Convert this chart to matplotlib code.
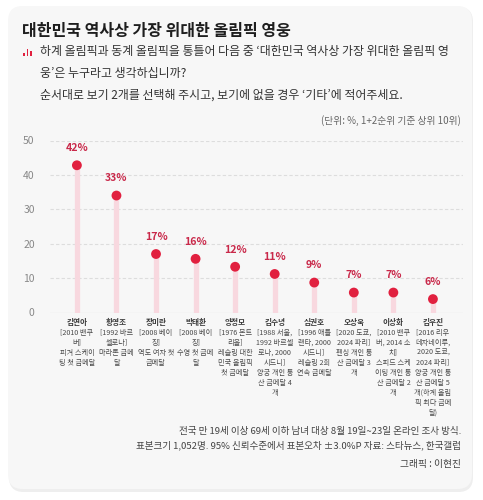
import matplotlib
matplotlib.use("Agg")
import matplotlib.pyplot as plt
from matplotlib.patches import FancyBboxPatch, Rectangle

plt.rcParams['font.family'] = ['Noto Sans CJK KR', 'DejaVu Sans']

# data
names = ['김연아', '황영조', '장미란', '박태환', '양정모',
         '김수녕', '심권호', '오상욱', '이상화', '김우진']
details = [
    ['[2010 밴쿠', '버]', '피겨 스케이', '팅 첫 금메달'],
    ['[1992 바르', '셀로나]', '마라톤 금메', '달'],
    ['[2008 베이', '징]', '역도 여자 첫', '금메달'],
    ['[2008 베이', '징]', '수영 첫 금메', '달'],
    ['[1976 몬트', '리올]', '레슬링 대한', '민국 올림픽', '첫 금메달'],
    ['[1988 서울,', '1992 바르셀', '로나, 2000', '시드니]', '양궁 개인 통', '산 금메달 4', '개'],
    ['[1996 애틀', '랜타, 2000', '시드니]', '레슬링 2회', '연속 금메달'],
    ['[2020 도쿄,', '2024 파리]', '펜싱 개인 통', '산 금메달 3', '개'],
    ['[2010 밴쿠', '버, 2014 소', '치]', '스피드 스케', '이팅 개인 통', '산 금메달 2', '개'],
    ['[2016 리우', '데자네이루,', '2020 도쿄,', '2024 파리]', '양궁 개인 통', '산 금메달 5',
     '개(하계 올림', '픽 최다 금메', '달)'],
]
values = [42.8, 34.0, 17.0, 15.6, 13.3, 11.2, 8.7, 5.8, 5.8, 3.9]
value_labels = ['42%', '33%', '17%', '16%', '12%', '11%', '9%', '7%', '7%', '6%']
yticks = [0, 10, 20, 30, 40, 50]

title = '대한민국 역사상 가장 위대한 올림픽 영웅'
question = ['하계 올림픽과 동계 올림픽을 통틀어 다음 중 ‘대한민국 역사상 가장 위대한 올림픽 영',
            '웅’은 누구라고 생각하십니까?',
            '순서대로 보기 2개를 선택해 주시고, 보기에 없을 경우 ‘기타’에 적어주세요.']
unit_note = '(단위: %, 1+2순위 기준 상위 10위)'
footer = ['전국 만 19세 이상 69세 이하 남녀 대상 8월 19일~23일 온라인 조사 방식.',
          '표본크기 1,052명. 95% 신뢰수준에서 표본오차 ±3.0%P 자료: 스타뉴스, 한국갤럽']
credit = '그래픽 : 이현진'

W, H = 483, 500
RED = '#e1203f'
PINK = '#f8d8df'


def fx(px):
    return px / W


def fy(py):
    return 1 - py / H


fig = plt.figure(figsize=(4.83, 5.0), dpi=100)
fig.patch.set_facecolor('white')

# card with a soft shadow (kept behind the axes)
fig.patches.append(FancyBboxPatch((fx(9), fy(492)), fx(464), 485 / H,
                                  boxstyle='round,pad=0,rounding_size=0.03',
                                  transform=fig.transFigure, facecolor='#eeeeee',
                                  edgecolor='none', zorder=-3))
fig.patches.append(FancyBboxPatch((fx(8), fy(489)), fx(464), 483 / H,
                                  boxstyle='round,pad=0,rounding_size=0.03',
                                  transform=fig.transFigure, facecolor='#f7f7f7',
                                  edgecolor='none', zorder=-2))

# header texts
fig.text(fx(22), fy(31), title, fontsize=11.5, fontweight='bold', color='#1e1e1e', va='center')
for (bx, bh) in [(23, 3), (26.5, 7), (30, 5)]:
    fig.patches.append(Rectangle((fx(bx), fy(56)), fx(1.8), bh / H,
                                 transform=fig.transFigure, facecolor=RED,
                                 edgecolor='none', zorder=1))
for i, line in enumerate(question):
    fig.text(fx(40), fy(52 + i * 21.5), line, fontsize=8.6, color='#333333', va='center')
fig.text(fx(461), fy(121), unit_note, fontsize=7.0, color='#666666', va='center', ha='right')

# chart
ax = fig.add_axes([fx(50), fy(312.5), fx(413), 172 / H])
ax.set_facecolor('none')
x = list(range(len(values)))
ax.vlines(x, 0, values, color=PINK, linewidth=3.8, zorder=2)
ax.scatter(x, values, s=50, color=RED, zorder=3, edgecolors='none')
for xi, v, lab in zip(x, values, value_labels):
    ax.annotate(lab, (xi, v), xytext=(0, 12.3), textcoords='offset points',
                ha='center', va='center', fontsize=7.6, fontweight='bold',
                color='#c9294a', annotation_clip=False)

ax.set_xlim(-0.68, 9.76)
ax.set_ylim(0, 50)
ax.set_yticks(yticks)
ax.set_yticklabels([str(t) for t in yticks], fontsize=7.5, color='#888888')
ax.tick_params(axis='y', length=0, pad=11)
ax.set_xticks([])
for t in yticks[1:]:
    ax.axhline(t, color='#dddddd', linewidth=0.8, linestyle=(0, (3, 2)), zorder=1)
ax.axhline(0, color='#e2e2e2', linewidth=0.9, zorder=1)
for s in ax.spines.values():
    s.set_visible(False)

# category labels under the axis
for xi, name, lines in zip(x, names, details):
    px = 50 + (xi + 0.68) * 39.56
    fig.text(fx(px), fy(322.5), name, fontsize=5.5, fontweight='bold',
             color='#3a3a3a', ha='center', va='center')
    for j, line in enumerate(lines):
        fig.text(fx(px), fy(332.5 + j * 10), line, fontsize=5.15,
                 color='#4a4a4a', ha='center', va='center')

# footer
for i, line in enumerate(footer):
    fig.text(fx(461), fy(431.5 + i * 13.5), line, fontsize=6.9, color='#444444',
             ha='right', va='center')
fig.text(fx(461), fy(463.5), credit, fontsize=7.0, color='#444444', ha='right', va='center')

fig.savefig('out.png', dpi=100)
